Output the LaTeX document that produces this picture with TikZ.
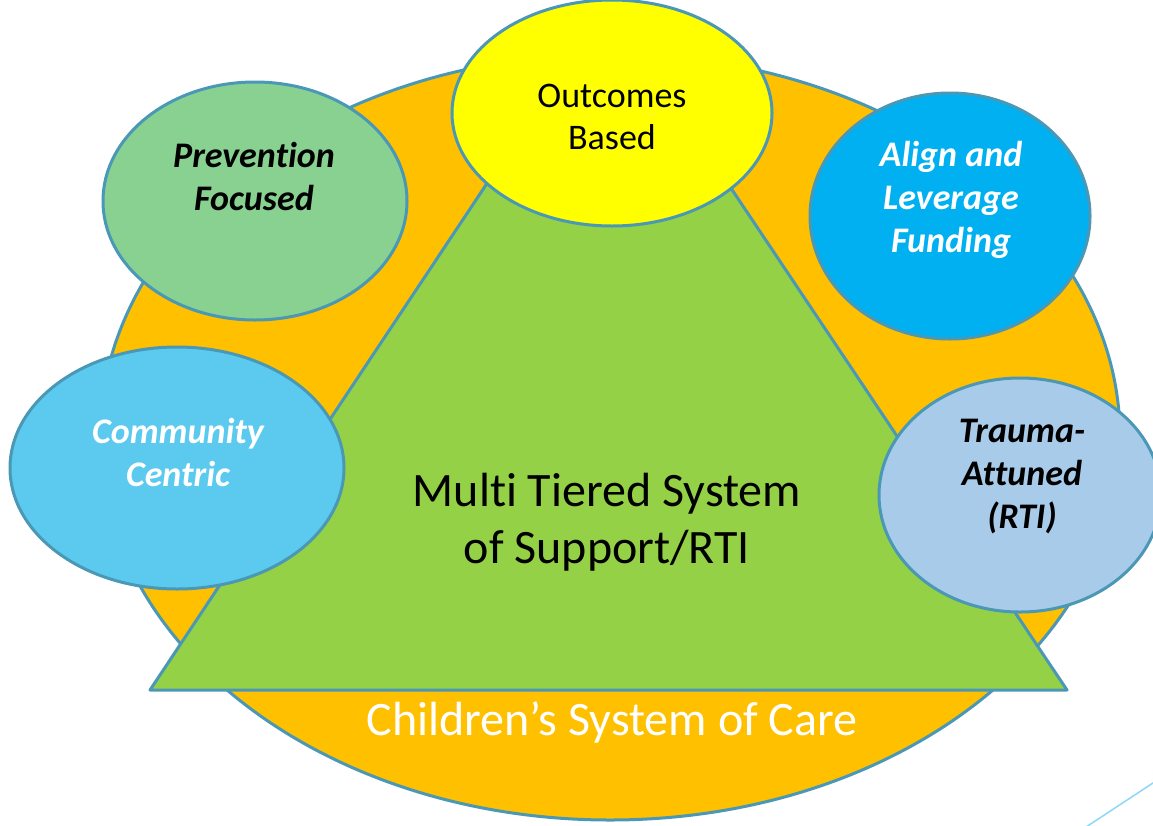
\documentclass[tikz,border=0pt]{standalone}
\usepackage{fontspec}
\setmainfont[Ligatures=NoCommon]{Carlito}
\usetikzlibrary{shapes.geometric}
\definecolor{edgeblue}{HTML}{4A98B5}
\definecolor{careorange}{HTML}{FFC000}
\definecolor{tiergreen}{HTML}{94D146}
\definecolor{outyellow}{HTML}{FFFF00}
\definecolor{prevgreen}{HTML}{88D190}
\definecolor{alignblue}{HTML}{00B0F0}
\definecolor{commblue}{HTML}{5BCAEE}
\definecolor{traumablue}{HTML}{A9CBEA}
\definecolor{decoblue}{HTML}{8CD8F6}
\begin{document}
\begin{tikzpicture}[x=1pt,y=-1pt,
  blob/.style={ellipse, draw=edgeblue, line width=3pt, inner sep=0pt, outer sep=0pt},
  lbl/.style={font=\fontsize{36}{43}\selectfont\bfseries\itshape, align=center, inner sep=0pt},
  plain/.style={font=\fontsize{36}{42}\selectfont, align=center, inner sep=0pt}]
\useasboundingbox (0,0) rectangle (1153,825);
% outer system of care
\node[blob, fill=careorange, minimum width=1020pt, minimum height=766pt] (care) at (610,437) {};
% triangle
\coordinate (tl) at (150,690);
\coordinate (tr) at (1067,690);
\coordinate (ta) at (607,3);
\draw[fill=tiergreen, draw=edgeblue, line width=3pt, line join=round] (tl) -- (ta) -- (tr) -- cycle;
\node[font=\fontsize{48}{57}\selectfont, align=center, inner sep=0pt] (mtss) at (607,522) {Multi Tiered System\\of Support/RTI};
\node[font=\fontsize{48}{50}\selectfont, text=white, inner sep=0pt] (caretext) at (612,722) {Children’s System of Care};
% satellites
\node[blob, fill=outyellow, minimum width=320pt, minimum height=226pt] (outc) at (612,113) {};
\node[plain] (outctext) at (612,117) {Outcomes\\Based};
\node[blob, fill=prevgreen, minimum width=304pt, minimum height=238pt] (prev) at (255,201) {};
\node[lbl] (prevtext) at (254,176) {Prevention\\Focused};
\node[blob, fill=alignblue, minimum width=280pt, minimum height=246pt] (align) at (950,216) {};
\node[lbl, text=white] (aligntext) at (951,200) {Align and\\Leverage\\Funding};
\node[blob, fill=commblue, minimum width=334pt, minimum height=242pt] (comm) at (177,468) {};
\node[lbl, text=white] (commtext) at (178,452) {Community\\Centric};
\node[blob, fill=traumablue, minimum width=282pt, minimum height=234pt] (trauma) at (1020,495) {};
\node[lbl] (traumatext) at (1022,477) {Trauma-\\Attuned\\(RTI)};
% slide decoration
\coordinate (d1) at (1086,827);
\coordinate (d2) at (1156,781);
\draw[decoblue, line width=1.5pt] (d1) -- (d2);
\end{tikzpicture}
\end{document}
